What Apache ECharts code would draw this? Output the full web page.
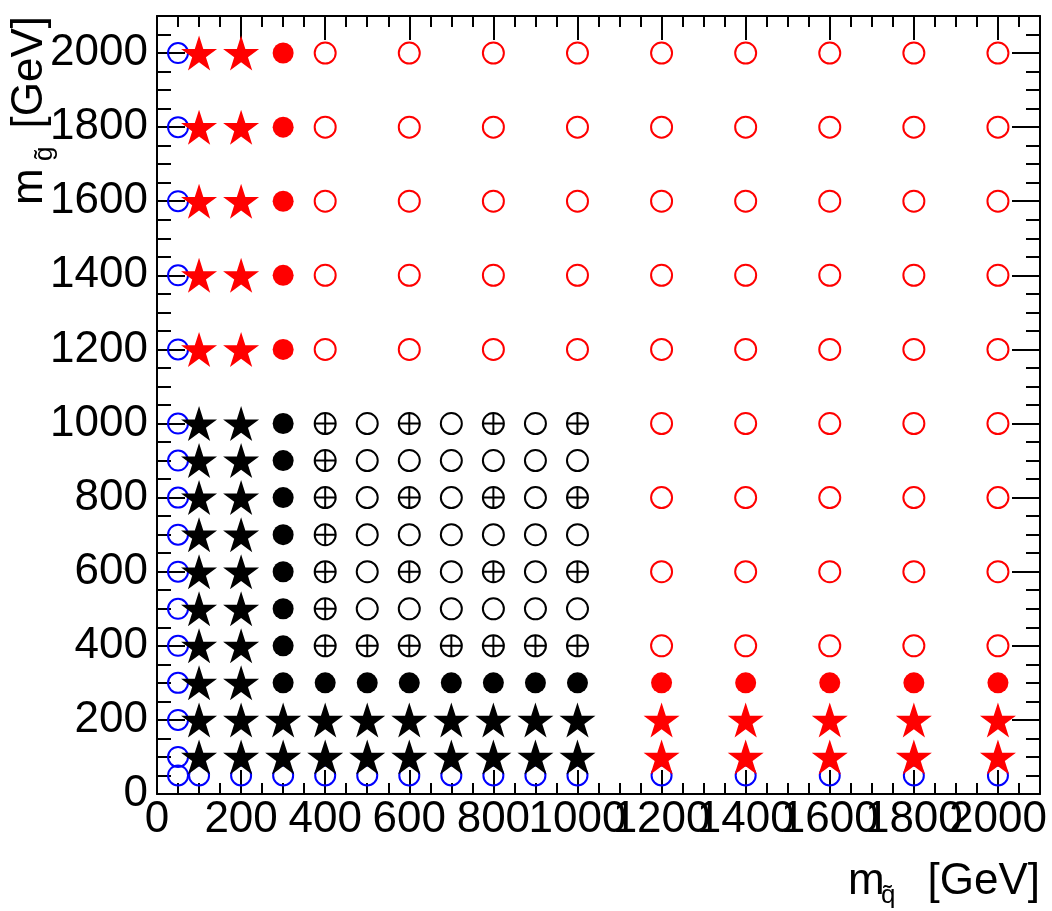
<!DOCTYPE html>
<html>
<head>
<meta charset="utf-8">
<script src="https://cdn.jsdelivr.net/npm/echarts@6.0.0/dist/echarts.min.js"></script>
<style>
  html, body { margin: 0; padding: 0; background: #fff; }
  #chart { width: 1052px; height: 911px; }
</style>
</head>
<body>
<div id="chart"></div>
<script>
// axis ticks
const majorStep = 200;
const minorStep = 50;
const axisMax = 2100;

// grid points, [m_squark, m_gluino] in GeV
const blueOpen = [
  [50, 50], [50, 100], [50, 200], [50, 300], [50, 400], [50, 500], [50, 600], [50, 700],
  [50, 800], [50, 900], [50, 1000], [50, 1200], [50, 1400], [50, 1600], [50, 1800], [50, 2000],
  [100, 50], [200, 50], [300, 50], [400, 50], [500, 50], [600, 50], [700, 50], [800, 50],
  [900, 50], [1000, 50], [1200, 50], [1400, 50], [1600, 50], [1800, 50], [2000, 50]
];

const blackStars = [
  [100, 100], [200, 100], [300, 100], [400, 100], [500, 100], [600, 100], [700, 100], [800, 100], [900, 100], [1000, 100],
  [100, 200], [200, 200], [300, 200], [400, 200], [500, 200], [600, 200], [700, 200], [800, 200], [900, 200], [1000, 200],
  [100, 300], [200, 300], [100, 400], [200, 400], [100, 500], [200, 500], [100, 600], [200, 600],
  [100, 700], [200, 700], [100, 800], [200, 800], [100, 900], [200, 900], [100, 1000], [200, 1000]
];

const redStars = [
  [100, 1200], [200, 1200], [100, 1400], [200, 1400], [100, 1600], [200, 1600],
  [100, 1800], [200, 1800], [100, 2000], [200, 2000],
  [1200, 100], [1400, 100], [1600, 100], [1800, 100], [2000, 100],
  [1200, 200], [1400, 200], [1600, 200], [1800, 200], [2000, 200]
];

const blackDots = [
  [300, 300], [300, 400], [300, 500], [300, 600], [300, 700], [300, 800], [300, 900], [300, 1000],
  [400, 300], [500, 300], [600, 300], [700, 300], [800, 300], [900, 300], [1000, 300]
];

const redDots = [
  [300, 1200], [300, 1400], [300, 1600], [300, 1800], [300, 2000],
  [1200, 300], [1400, 300], [1600, 300], [1800, 300], [2000, 300]
];

const crossedOpen = [
  [400, 400], [500, 400], [600, 400], [700, 400], [800, 400], [900, 400], [1000, 400],
  [400, 500], [400, 600], [600, 600], [800, 600], [1000, 600], [400, 700],
  [400, 800], [600, 800], [800, 800], [1000, 800], [400, 900],
  [400, 1000], [600, 1000], [800, 1000], [1000, 1000]
];

const blackOpen = [
  [500, 500], [600, 500], [700, 500], [800, 500], [900, 500], [1000, 500],
  [500, 600], [700, 600], [900, 600],
  [500, 700], [600, 700], [700, 700], [800, 700], [900, 700], [1000, 700],
  [500, 800], [700, 800], [900, 800],
  [500, 900], [600, 900], [700, 900], [800, 900], [900, 900], [1000, 900],
  [500, 1000], [700, 1000], [900, 1000]
];

const redOpen = [
  [400, 2000], [600, 2000], [800, 2000], [1000, 2000], [1200, 2000], [1400, 2000], [1600, 2000], [1800, 2000], [2000, 2000],
  [400, 1800], [600, 1800], [800, 1800], [1000, 1800], [1200, 1800], [1400, 1800], [1600, 1800], [1800, 1800], [2000, 1800],
  [400, 1600], [600, 1600], [800, 1600], [1000, 1600], [1200, 1600], [1400, 1600], [1600, 1600], [1800, 1600], [2000, 1600],
  [400, 1400], [600, 1400], [800, 1400], [1000, 1400], [1200, 1400], [1400, 1400], [1600, 1400], [1800, 1400], [2000, 1400],
  [400, 1200], [600, 1200], [800, 1200], [1000, 1200], [1200, 1200], [1400, 1200], [1600, 1200], [1800, 1200], [2000, 1200],
  [1200, 1000], [1400, 1000], [1600, 1000], [1800, 1000], [2000, 1000],
  [1200, 800], [1400, 800], [1600, 800], [1800, 800], [2000, 800],
  [1200, 600], [1400, 600], [1600, 600], [1800, 600], [2000, 600],
  [1200, 400], [1400, 400], [1600, 400], [1800, 400], [2000, 400]
];

const FONT = 'Liberation Sans, Arial, sans-serif';
const starPath = 'path://M50,0L61.23,34.55L97.55,34.55L68.16,55.9L79.39,90.45L50,69.1L20.61,90.45L31.84,55.9L2.45,34.55L38.77,34.55Z';
const crossPath = 'path://M0,50A50,50,0,1,1,100,50A50,50,0,1,1,0,50ZM50,0L50,100M0,50L100,50';

const chart = echarts.init(document.getElementById('chart'));

// one axis helper, used for the major (grid 0) and minor (grid 1) tick sets
const makeAxis = (gridIndex, position, step, tickLen, showLine, showLabel) => ({
  type: 'value',
  gridIndex,
  position,
  min: 0,
  max: axisMax,
  interval: step,
  axisLine: { show: showLine, onZero: false, lineStyle: { color: '#000', width: 2 } },
  axisTick: { show: true, inside: true, length: tickLen, lineStyle: { color: '#000', width: 2 } },
  axisLabel: {
    show: showLabel,
    color: '#000',
    fontFamily: FONT,
    fontSize: 44,
    margin: position === 'left' ? 9 : 4,
    formatter: v => (v <= 2000 ? String(v) : '')
  },
  splitLine: { show: false }
});

const scatter = (name, data, symbol, size, fill, stroke) => ({
  name,
  type: 'scatter',
  xAxisIndex: 0,
  yAxisIndex: 0,
  data,
  symbol,
  symbolSize: size,
  itemStyle: stroke
    ? { color: 'rgba(0,0,0,0)', borderColor: stroke, borderWidth: 2, opacity: 1 }
    : { color: fill, opacity: 1 },
  emphasis: { disabled: true },
  z: 3
});

const option = {
  animation: false,
  backgroundColor: '#fff',
  grid: [
    { left: 157, top: 16, right: 12, bottom: 117 },
    { left: 157, top: 16, right: 12, bottom: 117 }
  ],
  xAxis: [
    makeAxis(0, 'bottom', majorStep, 24, true, true),
    makeAxis(0, 'top', majorStep, 24, true, false),
    makeAxis(1, 'bottom', minorStep, 11, false, false),
    makeAxis(1, 'top', minorStep, 11, false, false)
  ],
  yAxis: [
    makeAxis(0, 'left', majorStep, 28, true, true),
    makeAxis(0, 'right', majorStep, 28, true, false),
    makeAxis(1, 'left', minorStep, 14, false, false),
    makeAxis(1, 'right', minorStep, 14, false, false)
  ],
  series: [
    scatter('blue open', blueOpen, 'circle', 20, null, '#0000ff'),
    scatter('black open', blackOpen, 'circle', 21, null, '#000'),
    scatter('black crossed', crossedOpen, crossPath, 21, null, '#000'),
    scatter('red open', redOpen, 'circle', 21, null, '#ff0000'),
    scatter('black dots', blackDots, 'circle', 21, '#000', null),
    scatter('red dots', redDots, 'circle', 21, '#ff0000', null),
    scatter('black stars', blackStars, starPath, [36, 35], '#000', null),
    scatter('red stars', redStars, starPath, [36, 35], '#ff0000', null)
  ],
  graphic: [
    {
      // x-axis title: m_q~ [GeV]
      type: 'group',
      x: 0,
      y: 0,
      children: [
        { type: 'text', x: 848, y: 882, style: { text: 'm', font: '44px ' + FONT, fill: '#000', verticalAlign: 'middle' } },
        { type: 'text', x: 881, y: 896, style: { text: 'q\u0303', font: '26px ' + FONT, fill: '#000', verticalAlign: 'middle' } },
        { type: 'text', x: 1040, y: 882, style: { text: '[GeV]', font: '44px ' + FONT, fill: '#000', align: 'right', verticalAlign: 'middle' } }
      ]
    },
    {
      // y-axis title: m_g~ [GeV], read bottom to top
      type: 'group',
      x: 30,
      y: 205,
      rotation: Math.PI / 2,
      children: [
        { type: 'text', x: 0, y: 0, style: { text: 'm', font: '44px ' + FONT, fill: '#000', verticalAlign: 'middle' } },
        { type: 'text', x: 44, y: 15, style: { text: 'g\u0303', font: '26px ' + FONT, fill: '#000', verticalAlign: 'middle' } },
        { type: 'text', x: 189, y: 0, style: { text: '[GeV]', font: '44px ' + FONT, fill: '#000', align: 'right', verticalAlign: 'middle' } }
      ]
    }
  ]
};

chart.setOption(option);
</script>
</body>
</html>
